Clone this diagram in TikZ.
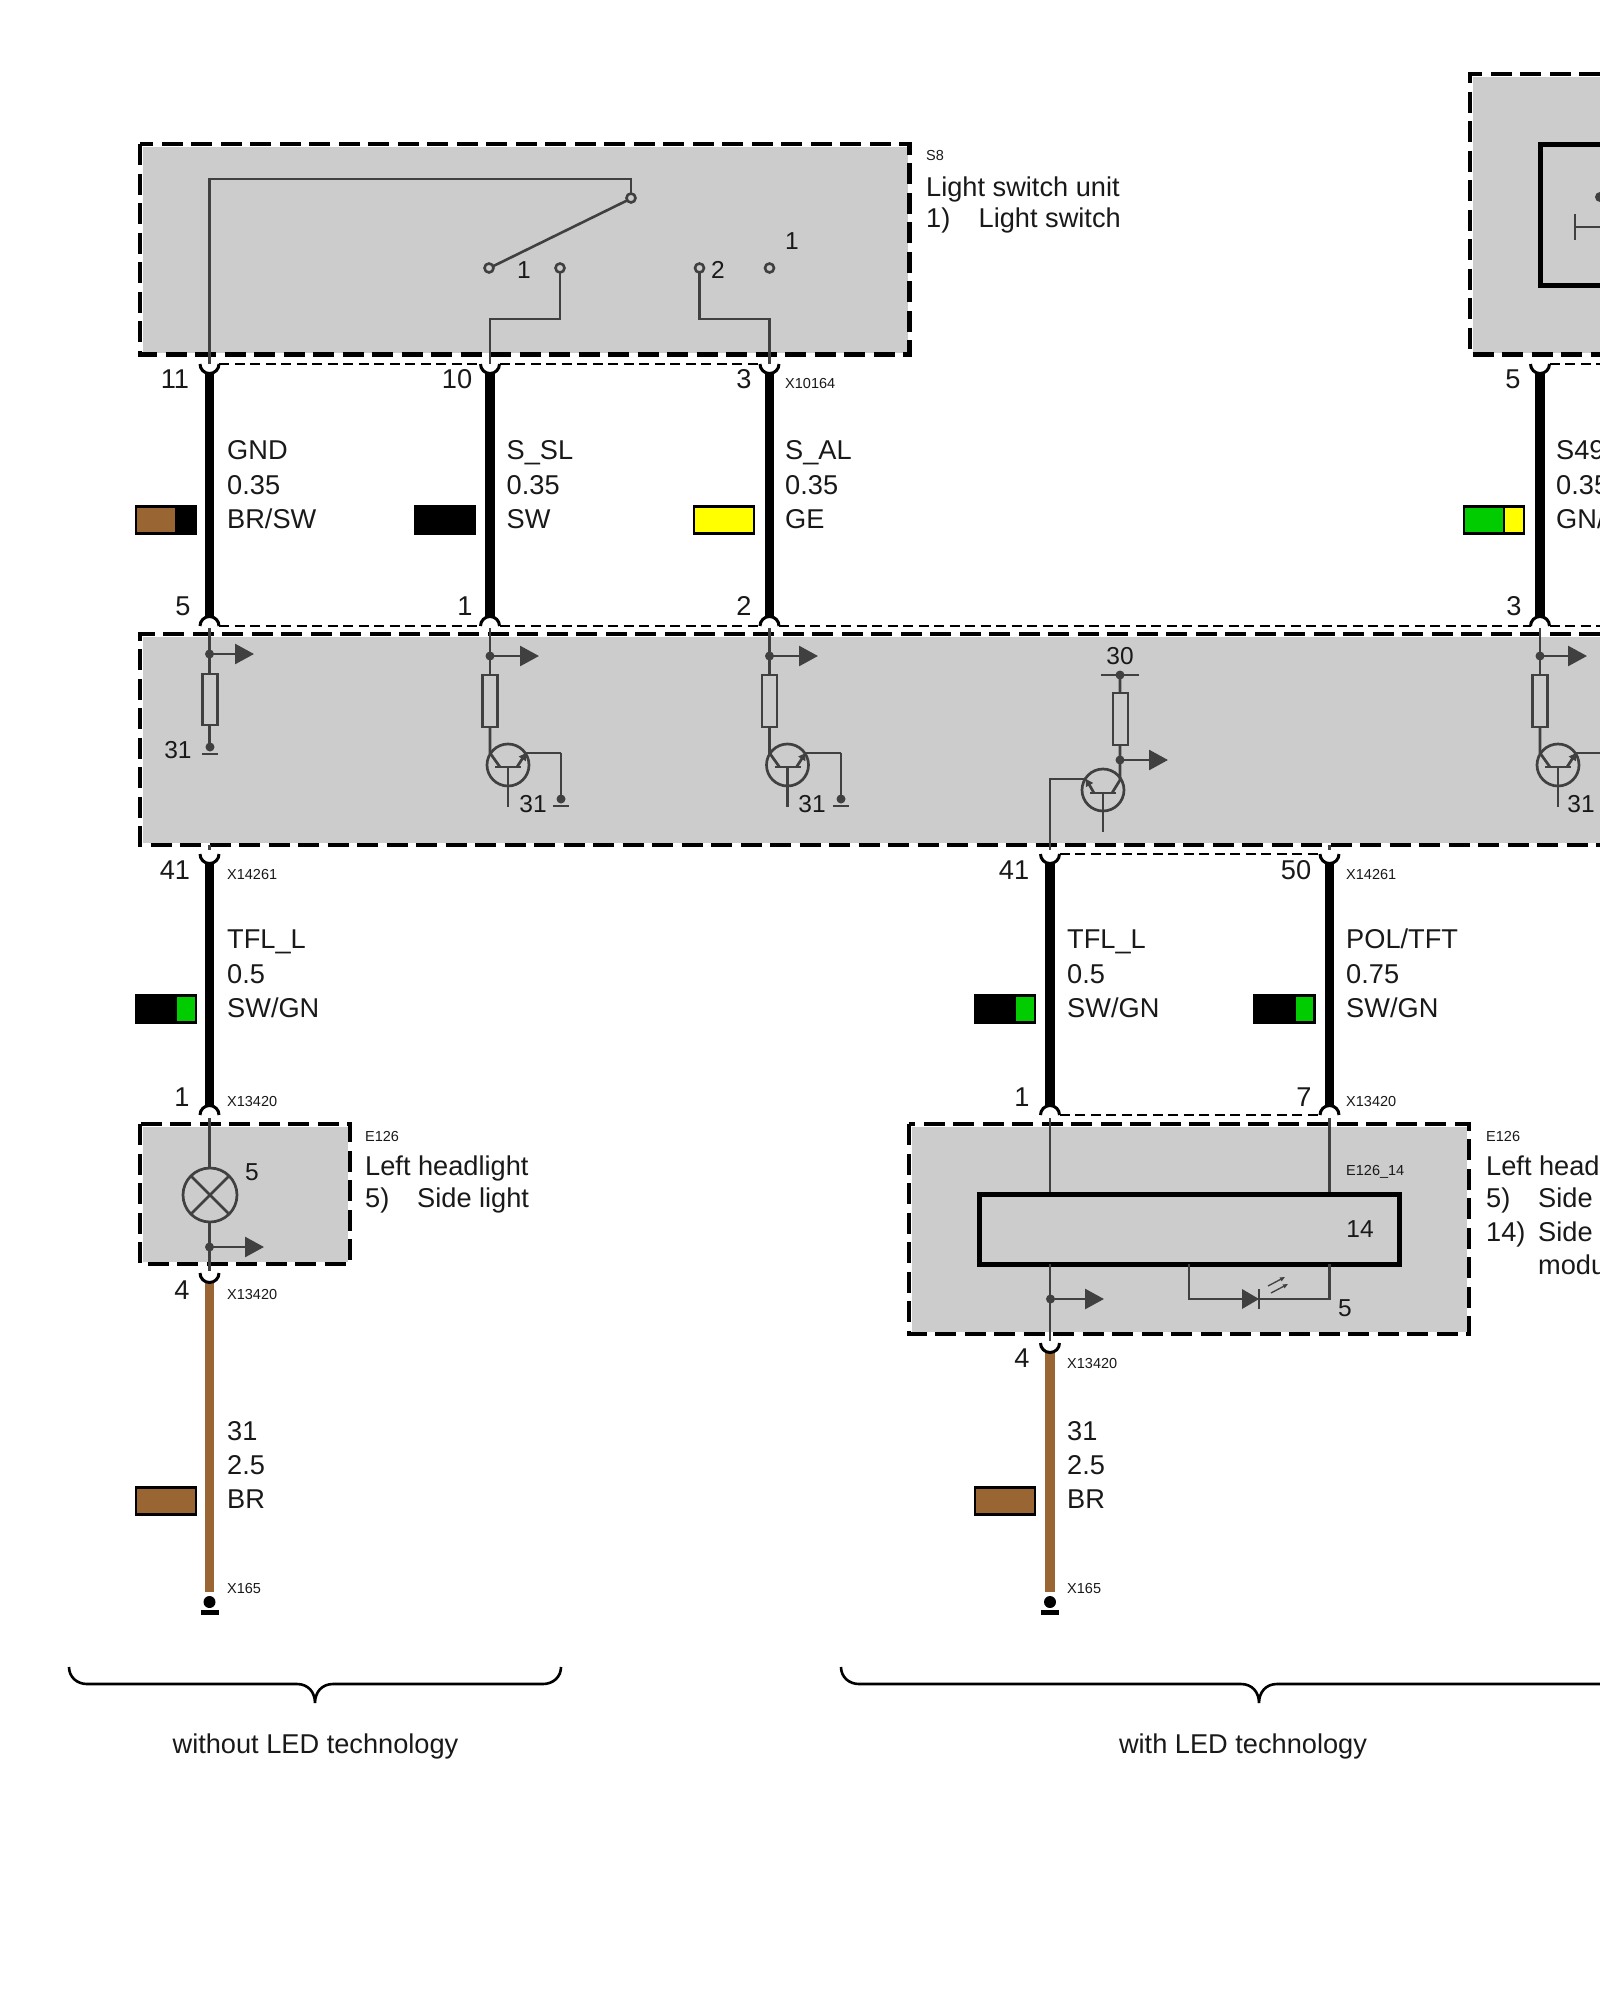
\documentclass[tikz,border=0pt]{standalone}
\usepackage{fontspec}
\setmainfont{Liberation Sans}
\usetikzlibrary{arrows.meta}
\definecolor{boxgray}{HTML}{CCCCCC}
\definecolor{ink}{HTML}{404040}
\definecolor{wbrown}{HTML}{996633}
\definecolor{wgreen}{HTML}{00CC00}
\definecolor{wyellow}{HTML}{FFFF00}
\newcounter{tn}
\tikzset{
  bigt/.style={font=\fontsize{27.2}{30}\selectfont,inner sep=0pt,text=black!90},
  compt/.style={font=\fontsize{24.5}{28}\selectfont,inner sep=0pt,text=black!90},
  smallt/.style={font=\fontsize{14.5}{16}\selectfont,inner sep=0pt,text=black!90},
  unitfill/.style={fill=boxgray,draw=none},
  unitline/.style={draw=black,line width=4.7pt,dash pattern=on 21pt off 8.5pt},
  thin line/.style={draw=ink,line width=2.6pt},
  comp/.style={draw=ink,line width=2.7pt},
  blackwire/.style={draw=black,line width=9.5pt},
  brownwire/.style={draw=wbrown,line width=9.5pt},
  pinarc/.style={draw=black,line width=3pt},
  pindash/.style={draw=black,line width=2.3pt,dash pattern=on 10pt off 5.5pt},
  module/.style={draw=black,line width=5pt},
  swatch/.style={draw=black,line width=2.2pt},
  bracepath/.style={draw=black,line width=2.6pt},
  outarrow/.style={draw=ink,line width=2.7pt,-{Triangle[length=19pt,width=20pt]}},
  emitter/.style={draw=ink,line width=2.7pt,-{Triangle[length=7pt,width=8pt]}}
}
\newcommand\TL[3]{\stepcounter{tn}\node[bigt,anchor=base west] (t\arabic{tn}) at (#1,#2+9.5) {#3};}
\newcommand\TC[3]{\stepcounter{tn}\node[bigt,anchor=base] (t\arabic{tn}) at (#1,#2+9.5) {#3};}
\newcommand\TD[3]{\stepcounter{tn}\node[compt,anchor=base] (t\arabic{tn}) at (#1,#2+9) {#3};}
\newcommand\TS[3]{\stepcounter{tn}\node[smallt,anchor=base west] (t\arabic{tn}) at (#1,#2+5) {#3};}
% cup opening upward / arch opening downward at a named pin
\newcommand\Cup[1]{\draw[pinarc] ([xshift=-9.5pt]#1) arc[start angle=180,end angle=360,radius=9.5pt];}
\newcommand\Arch[1]{\draw[pinarc] ([xshift=-9.5pt]#1) arc[start angle=180,end angle=0,radius=9.5pt];}
% sense branch: wire x, dot y, arrow tip x
\newcommand\Branch[3]{%
  \fill[ink] (#1,#2) circle[radius=4.5pt];
  \draw[outarrow] (#1,#2) -- (#3,#2);}
\newcommand\Res[3]{\draw[comp,fill=boxgray] (#1-7.5,#2) rectangle (#1+7.5,#3);}
% swatch: right edge, top y, one or two colours
\newcommand\SwOne[3]{\draw[swatch,fill=#3] (#1-60,#2) rectangle (#1,#2+27);}
\newcommand\SwTwo[4]{\fill[#3] (#1-60,#2) rectangle (#1-20,#2+27);\fill[#4] (#1-20,#2) rectangle (#1,#2+27);
  \draw[swatch] (#1-60,#2) rectangle (#1,#2+27);\draw[swatch] (#1-20,#2) -- (#1-20,#2+27);}
\newcommand\Trans[2]{% x of wire, emitter end x
  \draw[comp] (#1,727) -- (#1,753) -- (#1+10,767);
  \draw[comp] (#1+18,765) circle[radius=21pt];
  \draw[comp] (#1+5,767) -- (#1+31,767);
  \draw[comp] (#1+18,767) -- (#1+18,807);
  \draw[emitter] (#1+27,767) -- (#1+36,753);
  \draw[comp] (#1+36,753) -- (#2,753);}
\newcommand\Gnd[2]{\fill[ink] (#1,#2) circle[radius=4.5pt];\draw[comp] (#1-8,#2+7) -- (#1+8,#2+7);}
\newcommand\Earth[1]{\fill[black] (#1,1602) circle[radius=6pt];\fill[black] (#1-9,1609.5) rectangle (#1+9,1614.5);}
\begin{document}
\begin{tikzpicture}[x=1pt,y=-1pt]
\useasboundingbox (0,0) rectangle (1600,2000);
\fill[white] (0,0) rectangle (1600,2000);
% named pins
\foreach \n/\x in {1/209.5,2/490,3/769.5,4/1540}{
  \coordinate (s\n) at (\x,364);
  \coordinate (c\n) at (\x,626);
}
\foreach \n/\x in {1/209.5,2/1050,3/1329.5}{
  \coordinate (d\n) at (\x,854);
  \coordinate (e\n) at (\x,1115);
}
\coordinate (f1) at (209.5,1273);
\coordinate (f2) at (1050,1343);
\coordinate (g1) at (209.5,1592);
\coordinate (g2) at (1050,1592);
\coordinate (edgeS) at (1600,364);
\coordinate (edgeC) at (1600,626);
% unit boxes
\fill[unitfill] (142.5,146.5) rectangle (907.5,352.5);
\draw[unitline] (140,144) rectangle (909.5,354.5);
\fill[unitfill] (1472.5,76.5) rectangle (1600,352.5);
\draw[unitline] (1600,74) -- (1470,74) -- (1470,354.5) -- (1600,354.5);
\fill[unitfill] (142.5,636.5) rectangle (1600,842.5);
\draw[unitline] (1600,634) -- (140,634) -- (140,845) -- (1600,845);
\fill[unitfill] (142.5,1126.5) rectangle (347.5,1261.5);
\draw[unitline] (140,1124) rectangle (350,1264);
\fill[unitfill] (911.5,1126.5) rectangle (1466.5,1331.5);
\draw[unitline] (909,1124) rectangle (1469,1334);
% wires
\foreach \n in {1,2,3,4}{\draw[blackwire] ([yshift=-9.5pt]s\n) -- ([yshift=9.5pt]c\n);\Cup{s\n}\Arch{c\n}}
\foreach \n in {1,2,3}{\draw[blackwire] ([yshift=-9.5pt]d\n) -- ([yshift=9.5pt]e\n);\Cup{d\n}\Arch{e\n}}
\draw[brownwire] ([yshift=-9.5pt]f1) -- (g1);\Cup{f1}
\draw[brownwire] ([yshift=-9.5pt]f2) -- (g2);\Cup{f2}
\Earth{209.5}\Earth{1050}
% pin dashes
\draw[pindash] ([xshift=9.5pt]s1) -- ([xshift=-9.5pt]s2);
\draw[pindash] ([xshift=9.5pt]s2) -- ([xshift=-9.5pt]s3);
\draw[pindash] ([xshift=9.5pt]s4) -- (edgeS);
\draw[pindash] ([xshift=9.5pt]c1) -- ([xshift=-9.5pt]c2);
\draw[pindash] ([xshift=9.5pt]c2) -- ([xshift=-9.5pt]c3);
\draw[pindash] ([xshift=9.5pt]c3) -- ([xshift=-9.5pt]c4);
\draw[pindash] ([xshift=9.5pt]c4) -- (edgeC);
\draw[pindash] ([xshift=9.5pt]d2) -- ([xshift=-9.5pt]d3);
\draw[pindash] ([xshift=9.5pt]e2) -- ([xshift=-9.5pt]e3);
% light switch
\draw[thin line] (s1) -- (209.5,179) -- (631,179) -- (631,193);
\draw[thin line] (627,200.5) -- (493.5,266);
\draw[thin line,fill=boxgray] (631,198) circle[radius=4.5pt];
\draw[thin line,fill=boxgray] (489,268) circle[radius=4.5pt];
\draw[thin line,fill=boxgray] (560,268) circle[radius=4.5pt];
\draw[thin line,fill=boxgray] (699.5,268) circle[radius=4.5pt];
\draw[thin line,fill=boxgray] (769.5,268) circle[radius=4.5pt];
\draw[thin line] (s2) -- (490,319) -- (560,319) -- (560,272.5);
\draw[thin line] (s3) -- (769.5,319) -- (699.5,319) -- (699.5,272.5);
\TD{524}{269}{1}\TD{718}{269}{2}\TD{792}{240}{1}
% right unit fragment
\draw[module] (1600,144.5) -- (1540,144.5) -- (1540,285) -- (1600,285);
\draw[thin line] (1575,214) -- (1575,240);
\draw[thin line] (1575,227) -- (1600,227);
\fill[ink] (1600,197) circle[radius=5pt];
% control unit: first channel
\draw[comp] (209.5,628) -- (209.5,747);
\Branch{209.5}{654}{254}
\Res{210}{674}{725}
\Gnd{210}{747}
\TD{178}{749}{31}
% channels with transistor
\foreach \X/\E/\T in {490/561/539,769.5/841/818}{
  \draw[comp] (\X,628) -- (\X,675);
  \Branch{\X}{656}{\T}
  \Res{\X}{675}{727}
  \Trans{\X}{\E}
  \draw[comp] (\E,753) -- (\E,799);
  \Gnd{\E}{799}
}
\draw[comp] (1540,628) -- (1540,675);
\Branch{1540}{656}{1587}
\Res{1540}{675}{727}
\Trans{1540}{1600}
\TD{533}{803}{31}\TD{812}{803}{31}\TD{1581}{803}{31}
% output channel
\TD{1120}{655}{30}
\draw[comp] (1101,675) -- (1138.5,675);
\fill[ink] (1120,675) circle[radius=4.5pt];
\draw[comp] (1120,675) -- (1120,780) -- (1112,793);
\Res{1120.5}{693}{745}
\fill[ink] (1120,760) circle[radius=4.5pt];
\draw[outarrow] (1120,760) -- (1168,760);
\draw[comp] (1103,790) circle[radius=21pt];
\draw[comp] (1090,793) -- (1116,793);
\draw[comp] (1103,793) -- (1103,832);
\draw[emitter] (1094,793) -- (1086,779);
\draw[comp] (1086,779) -- (1050,779) -- (1050,850);
\draw[comp] (1329.5,845) -- (1329.5,850);
\draw[comp] (209.5,845) -- (209.5,850);
% left headlight without LED
\draw[comp] (209.5,1118) -- (209.5,1168);
\draw[comp] (210,1195) circle[radius=27pt];
\draw[comp] (190.9,1175.9) -- (229.1,1214.1);
\draw[comp] (229.1,1175.9) -- (190.9,1214.1);
\draw[comp] (209.5,1222) -- (209.5,1271);
\fill[ink] (209.5,1247) circle[radius=4.5pt];
\draw[outarrow] (209.5,1247) -- (264,1247);
% left headlight with LED
\draw[thin line] (1050,1118) -- (1050,1194);
\draw[thin line] (1329.5,1118) -- (1329.5,1194);
\draw[module] (979.5,1194) rectangle (1399,1264);
\draw[comp] (1050,1264) -- (1050,1341);
\fill[ink] (1050.5,1299) circle[radius=4.5pt];
\draw[outarrow] (1050,1299) -- (1104,1299);
\draw[comp] (1189,1264) -- (1189,1299) -- (1329.5,1299) -- (1329.5,1264);
\fill[ink] (1242,1289) -- (1259,1299) -- (1242,1309) -- cycle;
\draw[comp] (1259,1289) -- (1259,1309);
\draw[draw=ink,line width=1.3pt,-{Triangle[length=5pt,width=4pt]}] (1268,1286) -- (1285,1277);
\draw[draw=ink,line width=1.3pt,-{Triangle[length=5pt,width=4pt]}] (1271,1293) -- (1288,1284);
% swatches
\SwTwo{196}{506.5}{wbrown}{black}
\SwOne{475}{506.5}{black}
\SwOne{754}{506.5}{wyellow}
\SwTwo{1524}{506.5}{wgreen}{wyellow}
\SwTwo{196}{995.5}{black}{wgreen}
\SwTwo{1035}{995.5}{black}{wgreen}
\SwTwo{1314.5}{995.5}{black}{wgreen}
\SwOne{196}{1487.5}{wbrown}
\SwOne{1035}{1487.5}{wbrown}
% unit labels
\TS{926}{155}{S8}
\TL{926}{186.5}{Light switch unit}
\TL{926}{218}{1)}\TL{978.5}{218}{Light switch}
\TS{365}{1136}{E126}
\TL{365}{1166}{Left headlight}
\TL{365}{1198}{5)}\TL{417}{1198}{Side light}
\TS{1486}{1136}{E126}
\TL{1486}{1166}{Left head}
\TL{1486}{1198}{5)}\TL{1538}{1198}{Side}
\TL{1486}{1232}{14)}\TL{1538}{1232}{Side}
\TL{1538}{1265}{modu}
\TS{1346}{1170}{E126\_14}
\TD{1360}{1228}{14}
\TD{252}{1171}{5}
\TD{1345}{1307}{5}
% pin numbers
\TC{175}{379}{11}\TC{457}{379}{10}\TC{744}{379}{3}\TC{1513}{379}{5}
\TC{183}{606}{5}\TC{465}{606}{1}\TC{744}{606}{2}\TC{1514}{606}{3}
\TC{175}{870}{41}\TC{1014}{870}{41}\TC{1296}{870}{50}
\TC{182}{1097}{1}\TC{1022}{1097}{1}\TC{1304}{1097}{7}
\TC{182}{1290}{4}\TC{1022}{1358}{4}
% connector labels
\TS{785}{383}{X10164}
\TS{227}{874}{X14261}\TS{1346}{874}{X14261}
\TS{227}{1101}{X13420}\TS{1346}{1101}{X13420}
\TS{227}{1294}{X13420}\TS{1067}{1363}{X13420}
\TS{227}{1588}{X165}\TS{1067}{1588}{X165}
% wire labels
\TL{227}{450}{GND}\TL{227}{485}{0.35}\TL{227}{519}{BR/SW}
\TL{506.5}{450}{S\_SL}\TL{506.5}{485}{0.35}\TL{506.5}{519}{SW}
\TL{785}{450}{S\_AL}\TL{785}{485}{0.35}\TL{785}{519}{GE}
\TL{1556}{450}{S49}\TL{1556}{485}{0.35}\TL{1556}{519}{GN/}
\TL{227}{939}{TFL\_L}\TL{227}{973.5}{0.5}\TL{227}{1008}{SW/GN}
\TL{1067}{939}{TFL\_L}\TL{1067}{973.5}{0.5}\TL{1067}{1008}{SW/GN}
\TL{1346}{939}{POL/TFT}\TL{1346}{973.5}{0.75}\TL{1346}{1008}{SW/GN}
\TL{227}{1431}{31}\TL{227}{1465}{2.5}\TL{227}{1499}{BR}
\TL{1067}{1431}{31}\TL{1067}{1465}{2.5}\TL{1067}{1499}{BR}
% braces
\draw[bracepath] (69,1667) .. controls (69,1677) and (77,1684) .. (87,1684) -- (297,1684) .. controls (308,1684) and (315,1692) .. (315,1703) .. controls (315,1692) and (322,1684) .. (333,1684) -- (543,1684) .. controls (553,1684) and (561,1677) .. (561,1667);
\draw[bracepath] (841,1667) .. controls (841,1677) and (849,1684) .. (859,1684) -- (1241,1684) .. controls (1252,1684) and (1259,1692) .. (1259,1703) .. controls (1259,1692) and (1266,1684) .. (1277,1684) -- (1600,1684);
\TC{315.5}{1744}{without LED technology}
\TC{1243}{1744}{with LED technology}
\end{tikzpicture}
\end{document}
